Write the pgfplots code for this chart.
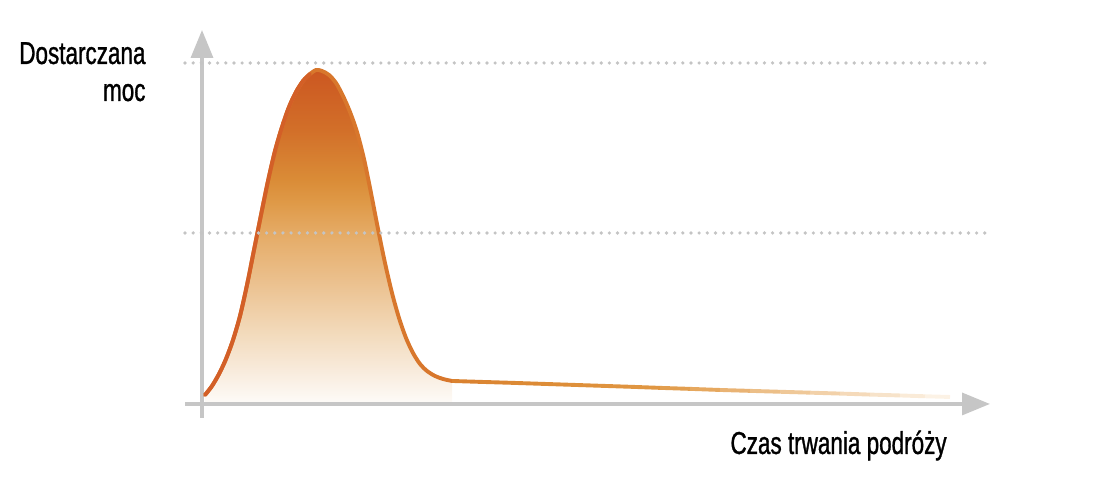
\documentclass[border=0pt]{standalone}
\usepackage{fontspec}
\setmainfont{Liberation Sans}[FakeStretch=0.71, FakeBold=1]
\usepackage{pgfplots}
\pgfplotsset{compat=1.18}
\usetikzlibrary{arrows.meta}

\definecolor{axisgray}{HTML}{C6C6C6}
\definecolor{dotgray}{HTML}{C4C4C4}
\definecolor{riseorange}{HTML}{D35F27}
\definecolor{fallorange}{HTML}{D8772C}
% fill shades, bottom to top
\definecolor{sh0}{HTML}{FEFCF9}
\definecolor{sh1}{HTML}{F8EBDC}
\definecolor{sh2}{HTML}{F2D9B9}
\definecolor{sh3}{HTML}{EBC08D}
\definecolor{sh4}{HTML}{E5AB66}
\definecolor{sh5}{HTML}{DF9A48}
\definecolor{sh6}{HTML}{DA8C37}
\definecolor{sh7}{HTML}{D26F29}
\definecolor{sh8}{HTML}{CC5721}

\pgfdeclareverticalshading{humpfade}{100bp}{
  color(0bp)=(sh0); color(25bp)=(sh0); color(30bp)=(sh1); color(36bp)=(sh2);
  color(43.5bp)=(sh3); color(50.5bp)=(sh4); color(55bp)=(sh5); color(58.5bp)=(sh6);
  color(66bp)=(sh7); color(75bp)=(sh8); color(100bp)=(sh8)}

\pgfplotstableread{
x   y
205 9
212 18
219 30
226 45
233 64
240 88
247 119
254 154
261 189
268 223
275 253
282 277
289 297
296 312
303 323
310 330
316 334
322 333
329 329
336 321
343 308
350 292
357 272
364 245
371 211
378 175
385 141
392 111
399 86
406 66
413 51
420 40
427 33
435 28
443 25
452 23
}\hump

\pgfplotstableread{
x   y
452 23
480 22.1
510 21.2
540 20.2
570 19.2
600 18.2
630 17.2
660 16.1
690 15.1
720 14.0
750 13.1
780 12.2
810 11.3
840 10.4
870 9.4
900 8.5
925 7.7
950 7.0
}\tail

\begin{document}
\begin{tikzpicture}
\begin{axis}[
    scale only axis,
    width=16cm, height=6.896cm,
    xmin=0, xmax=1109, ymin=-74, ymax=404,
    hide axis,
    clip=false,
]
% page frame (pixel grid of the reference)
\path (axis cs:0,-74) rectangle (axis cs:1109,404);

% shaded area under the peak
\addplot[draw=none, shading=humpfade, shading angle=0, smooth] table {\hump} \closedcycle;

% axes
\draw[axisgray, line width=1.5pt, -{Triangle[length=11.5pt, width=9pt]}]
    (axis cs:185,0) -- (axis cs:990,0);
\draw[axisgray, line width=1.5pt, -{Triangle[length=11.5pt, width=9pt]}]
    (axis cs:202,-14) -- (axis cs:202,374);

% curve: whole peak, then the rising side over it
\addplot[fallorange, line width=1.6pt, line cap=round, smooth] table {\hump};
\addplot[riseorange, line width=1.6pt, line cap=round, smooth]
    table[restrict x to domain=200:312] {\hump};

% slow fading tail
\addplot[mesh, point meta=x, point meta min=452, point meta max=950,
    colormap={tailmap}{rgb255(0pt)=(217,128,47) rgb255(98pt)=(221,141,55)
        rgb255(198pt)=(224,150,67) rgb255(248pt)=(229,166,92)
        rgb255(308pt)=(236,189,133) rgb255(368pt)=(242,208,166)
        rgb255(428pt)=(247,226,200) rgb255(498pt)=(253,245,235)},
    line width=1.6pt] table {\tail};

% dotted reference levels
\draw[dotgray, line width=1.5pt, line cap=round, dash pattern=on 0pt off 3.35pt]
    (axis cs:185,341) -- (axis cs:990,341);
\draw[dotgray, line width=1.5pt, line cap=round, dash pattern=on 0pt off 3.35pt]
    (axis cs:185,171) -- (axis cs:990,171);

% labels
\node[anchor=base east, inner sep=0pt, font=\fontsize{13}{15}\selectfont]
    at (axis cs:146,340) {Dostarczana};
\node[anchor=base east, inner sep=0pt, font=\fontsize{13}{15}\selectfont]
    at (axis cs:146,303) {moc};
\node[anchor=base west, inner sep=0pt, font=\fontsize{13}{15}\selectfont]
    at (axis cs:730,-50) {Czas trwania podróży};
\end{axis}
\end{tikzpicture}
\end{document}
